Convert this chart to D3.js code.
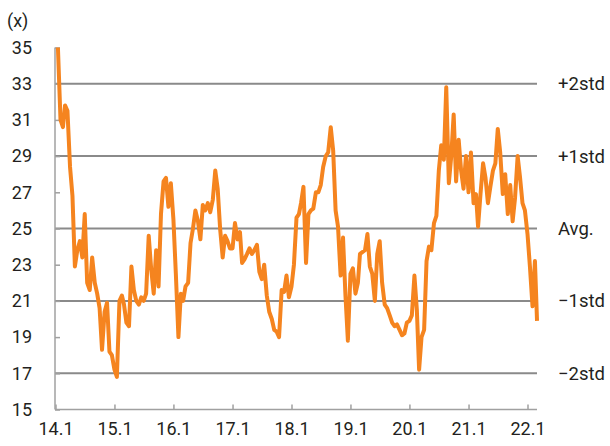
<!DOCTYPE html>
<html>
<head>
<meta charset="utf-8">
<script src="https://cdn.jsdelivr.net/npm/d3@7"></script>
<style>
  body { margin: 0; background: #fff; }
  svg text { font-family: Roboto, "Liberation Sans", sans-serif; fill: #231f20; }
</style>
</head>
<body>
<div id="chart"></div>
<script>
// half-monthly readings (1st and 16th of each month)
const v2014 = [35, 31.0, 30.6, 31.8, 31.5, 28.4, 26.8, 22.9, 23.8, 24.3, 23.4, 25.8, 22.0, 21.6, 23.4, 22.0, 21.4, 20.6, 18.3, 20.4, 20.9, 18.2, 18.0];
const v2015 = [17.2, 16.8, 21.0, 21.3, 20.8, 19.8, 19.6, 22.9, 21.6, 21.0, 20.8, 21.2, 21.0, 21.4, 24.6, 22.8, 21.4, 23.8, 21.8, 25.8, 27.6, 27.8, 26.2, 27.5];
const v2016 = [25.5, 22.5, 19.0, 21.4, 21.0, 21.8, 22.0, 24.2, 25.0, 26.0, 25.4, 24.4, 26.3, 26.0, 26.4, 25.9, 26.6, 28.2, 27.2, 25.0, 23.4, 24.6, 24.3, 23.9];
const v2017 = [23.9, 25.3, 24.4, 24.8, 23.1, 23.3, 23.6, 23.9, 23.6, 23.8, 24.1, 22.6, 22.2, 23.0, 21.3, 20.4, 20.0, 19.4, 19.3, 19.0, 21.6, 21.5, 22.4, 21.2];
const v2018 = [21.8, 23.0, 25.6, 25.8, 26.4, 27.3, 23.1, 25.8, 26.0, 26.1, 27.0, 27.0, 27.4, 28.4, 29.0, 29.2, 30.6, 29.3, 26.0, 25.1, 22.4, 24.5, 21.3, 18.8];
const v2019 = [22.5, 22.8, 21.4, 22.0, 23.6, 23.7, 23.8, 24.7, 22.9, 22.5, 21.0, 23.6, 24.3, 22.0, 20.8, 20.6, 20.2, 19.8, 19.6, 19.7, 19.4, 19.1, 19.2, 19.8];
const v2020 = [19.9, 20.2, 22.4, 20.5, 17.2, 19.0, 19.4, 23.2, 24.0, 23.8, 25.3, 25.7, 28.2, 29.6, 28.8, 32.8, 27.5, 29.0, 31.3, 27.6, 29.9, 28.2, 27.2, 29.0];
const v2021 = [27.0, 29.2, 26.4, 26.9, 25.1, 26.9, 28.6, 27.8, 26.4, 27.3, 28.2, 28.6, 30.5, 29.2, 26.9, 28.0, 25.8, 27.4, 25.4, 26.7, 29.0, 27.8, 26.4, 26.0];
const v2022 = [24.7, 22.9, 20.7, 23.2, 19.9];

const years = [
  {year: 2014, first: 1, values: v2014},
  {year: 2015, first: 0, values: v2015},
  {year: 2016, first: 0, values: v2016},
  {year: 2017, first: 0, values: v2017},
  {year: 2018, first: 0, values: v2018},
  {year: 2019, first: 0, values: v2019},
  {year: 2020, first: 0, values: v2020},
  {year: 2021, first: 0, values: v2021},
  {year: 2022, first: 0, values: v2022}
];

const yTicks = [15, 17, 19, 21, 23, 25, 27, 29, 31, 33, 35];
const bandLevels = [33, 29, 25, 21, 17];
const bandLabels = ["+2std", "+1std", "Avg.", "\u22121std", "\u22122std"];

let data = [];
years.forEach(yr => {
    yr.values.forEach((v, i) => {
        let k = i + yr.first;
        data.push({date: new Date(yr.year, Math.floor(k / 2), k % 2 ? 16 : 1), value: v});
    });
});

let svgWidth = 610, svgHeight = 446;
let plotLeft = 55, plotRight = 537, plotTop = 47.5, plotBottom = 409.5;

let x = d3.scaleTime()
    .domain([new Date(2014, 0, 1), new Date(2022, 0, 1)])
    .range([55.5, 527.5]);
let y = d3.scaleLinear().domain([15, 35]).range([plotBottom, plotTop]);

let svg = d3.select("#chart").append("svg")
    .attr("width", svgWidth)
    .attr("height", svgHeight);

// band lines
svg.append("g")
    .selectAll("line")
    .data(bandLevels)
    .enter().append("line")
    .attr("x1", plotLeft).attr("x2", plotRight)
    .attr("y1", d => y(d)).attr("y2", d => y(d))
    .attr("stroke", "#8a8a8a")
    .attr("stroke-width", 2);

// axes
let yAxis = svg.append("g")
    .attr("transform", `translate(${plotLeft}, 0)`)
    .call(d3.axisLeft(y).tickValues(yTicks).tickSize(-5).tickSizeOuter(0).tickPadding(23));
let xAxis = svg.append("g")
    .attr("transform", `translate(0, ${plotBottom})`)
    .call(d3.axisBottom(x).ticks(d3.timeYear.every(1)).tickFormat(d3.timeFormat("%y.%-m"))
        .tickSize(-5).tickSizeOuter(0).tickPadding(13));

[yAxis, xAxis].forEach(a => {
    a.select(".domain").remove();
    a.selectAll(".tick line").attr("stroke", "#a0a0a0").attr("stroke-width", 1.5);
    a.selectAll(".tick text").style("font-size", "18px").attr("fill", "#231f20");
});

svg.append("line")
    .attr("x1", plotLeft).attr("x2", plotLeft).attr("y1", plotTop).attr("y2", plotBottom)
    .attr("stroke", "#a0a0a0").attr("stroke-width", 1.5);
svg.append("line")
    .attr("x1", plotLeft).attr("x2", plotRight).attr("y1", plotBottom).attr("y2", plotBottom)
    .attr("stroke", "#a0a0a0").attr("stroke-width", 1.5);

// series
let line = d3.line()
    .x(d => x(d.date))
    .y(d => y(d.value));

svg.append("path")
    .datum(data)
    .attr("d", line)
    .attr("fill", "none")
    .attr("stroke", "#f5841f")
    .attr("stroke-width", 4)
    .attr("stroke-linejoin", "round");

// right labels
svg.append("g")
    .selectAll("text")
    .data(bandLevels)
    .enter().append("text")
    .attr("x", 558)
    .attr("y", d => y(d))
    .attr("dy", "0.35em")
    .style("font-size", "18.5px")
    .text((d, i) => bandLabels[i]);

svg.append("text")
    .attr("x", 7)
    .attr("y", 27)
    .style("font-size", "18px")
    .text("(x)");
</script>
</body>
</html>
